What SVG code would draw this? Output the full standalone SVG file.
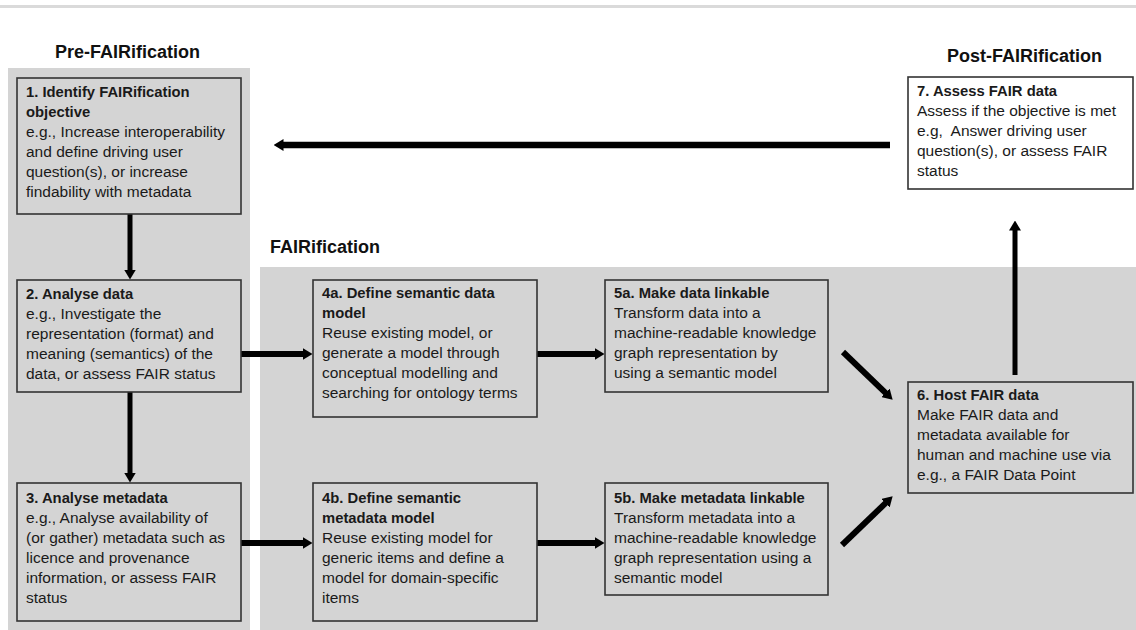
<svg xmlns="http://www.w3.org/2000/svg" width="1136" height="630" viewBox="0 0 1136 630">
<defs>
<style>
.panel{fill:#d4d4d4}
.box{fill:#d4d4d4;stroke:#333;stroke-width:1.6}
.wbox{fill:#ffffff;stroke:#333;stroke-width:1.6}
.title{font-family:"Liberation Sans",Arial,sans-serif;font-weight:bold;font-size:18px;fill:#111}
.t{font-family:"Liberation Sans",Arial,sans-serif;font-size:15.5px;fill:#1a1a1a}
.b{font-weight:bold;font-size:14.8px}
.c{stroke:#000;fill:none}
</style>
<marker id="ah" markerUnits="userSpaceOnUse" viewBox="0 -6 10 12" markerWidth="10" markerHeight="12" refX="0.5" refY="0" orient="auto">
<path d="M0,-6 L10,0 L0,6 z" fill="#000"/>
</marker>
</defs>
<rect x="0" y="0" width="1136" height="630" fill="#fff"/>
<rect x="0" y="5" width="1136" height="3" fill="#dadada"/>

<g id="pre-panel">
<rect class="panel" x="8" y="68" width="242" height="562"/>
<text class="title" x="55" y="58">Pre-FAIRification</text>
</g>
<g id="fair-panel">
<rect class="panel" x="260" y="267" width="876" height="363"/>
<text class="title" x="270" y="253">FAIRification</text>
</g>
<g id="post-title">
<text class="title" x="947" y="62">Post-FAIRification</text>
</g>

<g id="connectors">
<line class="c" stroke-width="6.5" x1="890" y1="145" x2="283" y2="145" marker-end="url(#ah)"/>
<line class="c" stroke-width="5" x1="130" y1="214" x2="130" y2="270" marker-end="url(#ah)"/>
<line class="c" stroke-width="5" x1="130" y1="392" x2="130" y2="473" marker-end="url(#ah)"/>
<line class="c" stroke-width="6" x1="241" y1="354" x2="303" y2="354" marker-end="url(#ah)"/>
<line class="c" stroke-width="6" x1="241" y1="543" x2="303" y2="543" marker-end="url(#ah)"/>
<line class="c" stroke-width="6" x1="537" y1="354" x2="595" y2="354" marker-end="url(#ah)"/>
<line class="c" stroke-width="6" x1="537" y1="543" x2="595" y2="543" marker-end="url(#ah)"/>
<line class="c" stroke-width="6" x1="843" y1="352" x2="885.8" y2="393.1" marker-end="url(#ah)"/>
<line class="c" stroke-width="6" x1="842" y1="545" x2="885.8" y2="502.9" marker-end="url(#ah)"/>
<line class="c" stroke-width="5" x1="1015" y1="375" x2="1015" y2="230" marker-end="url(#ah)"/>
</g>

<g id="n1">
<rect class="box" x="17" y="78" width="224" height="136"/>
<text class="t"><tspan class="b" x="26" y="97">1. Identify FAIRification</tspan><tspan class="b" x="26" y="117">objective</tspan><tspan x="26" y="137">e.g., Increase interoperability</tspan><tspan x="26" y="157">and define driving user</tspan><tspan x="26" y="177">question(s), or increase</tspan><tspan x="26" y="197">findability with metadata</tspan></text>
</g>

<g id="n2">
<rect class="box" x="17" y="280" width="224" height="112"/>
<text class="t"><tspan class="b" x="26" y="299">2. Analyse data</tspan><tspan x="26" y="319">e.g., Investigate the</tspan><tspan x="26" y="339">representation (format) and</tspan><tspan x="26" y="359">meaning (semantics) of the</tspan><tspan x="26" y="379">data, or assess FAIR status</tspan></text>
</g>

<g id="n3">
<rect class="box" x="17" y="483" width="224" height="138"/>
<text class="t"><tspan class="b" x="26" y="503">3. Analyse metadata</tspan><tspan x="26" y="523">e.g., Analyse availability of</tspan><tspan x="26" y="543">(or gather) metadata such as</tspan><tspan x="26" y="563">licence and provenance</tspan><tspan x="26" y="583">information, or assess FAIR</tspan><tspan x="26" y="603">status</tspan></text>
</g>

<g id="n4a">
<rect class="box" x="313" y="280" width="224" height="137"/>
<text class="t"><tspan class="b" x="322" y="298">4a. Define semantic data</tspan><tspan class="b" x="322" y="318">model</tspan><tspan x="322" y="338">Reuse existing model, or</tspan><tspan x="322" y="358">generate a model through</tspan><tspan x="322" y="378">conceptual modelling and</tspan><tspan x="322" y="398">searching for ontology terms</tspan></text>
</g>

<g id="n4b">
<rect class="box" x="313" y="483" width="224" height="138"/>
<text class="t"><tspan class="b" x="322" y="503">4b. Define semantic</tspan><tspan class="b" x="322" y="523">metadata model</tspan><tspan x="322" y="543">Reuse existing model for</tspan><tspan x="322" y="563">generic items and define a</tspan><tspan x="322" y="583">model for domain-specific</tspan><tspan x="322" y="603">items</tspan></text>
</g>

<g id="n5a">
<rect class="box" x="605" y="280" width="223" height="112"/>
<text class="t"><tspan class="b" x="614" y="298">5a. Make data linkable</tspan><tspan x="614" y="318">Transform data into a</tspan><tspan x="614" y="338">machine-readable knowledge</tspan><tspan x="614" y="358">graph representation by</tspan><tspan x="614" y="378">using a semantic model</tspan></text>
</g>

<g id="n5b">
<rect class="box" x="605" y="483" width="223" height="112"/>
<text class="t"><tspan class="b" x="614" y="503">5b. Make metadata linkable</tspan><tspan x="614" y="523">Transform metadata into a</tspan><tspan x="614" y="543">machine-readable knowledge</tspan><tspan x="614" y="563">graph representation using a</tspan><tspan x="614" y="583">semantic model</tspan></text>
</g>

<g id="n6">
<rect class="box" x="908" y="382" width="225" height="111"/>
<text class="t"><tspan class="b" x="917" y="400">6. Host FAIR data</tspan><tspan x="917" y="420">Make FAIR data and</tspan><tspan x="917" y="440">metadata available for</tspan><tspan x="917" y="460">human and machine use via</tspan><tspan x="917" y="480">e.g., a FAIR Data Point</tspan></text>
</g>

<g id="n7">
<rect class="wbox" x="908" y="77" width="225" height="112"/>
<text class="t"><tspan class="b" x="917" y="96">7. Assess FAIR data</tspan><tspan x="917" y="116">Assess if the objective is met</tspan><tspan x="917" y="136" xml:space="preserve">e.g,  Answer driving user</tspan><tspan x="917" y="156">question(s), or assess FAIR</tspan><tspan x="917" y="176">status</tspan></text>
</g>
</svg>
